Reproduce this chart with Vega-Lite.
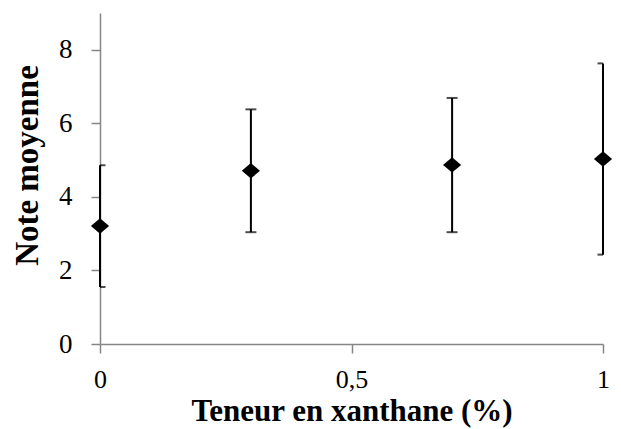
{
  "$schema": "https://vega.github.io/schema/vega-lite/v6.json",
  "width": 503,
  "height": 331,
  "autosize": {"type": "none"},
  "padding": {"left": 100, "top": 13, "right": 18, "bottom": 85},
  "background": "white",
  "config": {
    "view": {"stroke": null},
    "font": "Liberation Serif"
  },
  "data": {
    "values": [
      {"teneur": 0, "note": 3.21, "lo": 1.55, "hi": 4.86},
      {"teneur": 0.3, "note": 4.71, "lo": 3.04, "hi": 6.38},
      {"teneur": 0.7, "note": 4.87, "lo": 3.04, "hi": 6.69},
      {"teneur": 1, "note": 5.03, "lo": 2.43, "hi": 7.63}
    ]
  },
  "encoding": {
    "x": {
      "field": "teneur",
      "type": "quantitative",
      "scale": {"domain": [0, 1], "nice": false},
      "axis": {
        "title": "Teneur en xanthane (%)",
        "values": [0, 0.5, 1],
        "labelExpr": "replace(format(datum.value, '.1~f'), '.', ',')",
        "grid": false,
        "domainColor": "#868686",
        "tickColor": "#868686",
        "domainWidth": 1.5,
        "tickWidth": 1.5,
        "tickSize": 9,
        "labelFlush": false,
        "labelFont": "Liberation Serif",
        "labelFontSize": 26,
        "labelColor": "black",
        "labelPadding": 13,
        "titleFont": "Liberation Serif",
        "titleFontSize": 31,
        "titleFontWeight": "bold",
        "titleColor": "black",
        "titlePadding": 4
      }
    }
  },
  "layer": [
    {
      "mark": {"type": "rule", "color": "black", "strokeWidth": 2},
      "encoding": {
        "y": {
          "field": "lo",
          "type": "quantitative",
          "scale": {"domain": [0, 9], "nice": false},
          "axis": {
            "title": "Note moyenne",
            "values": [0, 2, 4, 6, 8],
            "grid": false,
            "domainColor": "#868686",
            "tickColor": "#868686",
            "domainWidth": 1.5,
            "tickWidth": 1.5,
            "tickSize": 9,
            "labelFont": "Liberation Serif",
            "labelFontSize": 27,
            "labelColor": "black",
            "labelPadding": 19,
            "titleFont": "Liberation Serif",
            "titleFontSize": 33,
            "titleFontWeight": "bold",
            "titleColor": "black",
            "titlePadding": 14,
            "titleY": 152
          }
        },
        "y2": {"field": "hi"}
      }
    },
    {
      "mark": {"type": "tick", "orient": "horizontal", "color": "black", "size": 11, "thickness": 2, "clip": true},
      "encoding": {"y": {"field": "lo", "type": "quantitative"}}
    },
    {
      "mark": {"type": "tick", "orient": "horizontal", "color": "black", "size": 11, "thickness": 2, "clip": true},
      "encoding": {"y": {"field": "hi", "type": "quantitative"}}
    },
    {
      "mark": {"type": "point", "shape": "M-1,0L0,-0.85L1,0L0,0.85Z", "filled": true, "color": "black", "opacity": 1, "size": 330},
      "encoding": {"y": {"field": "note", "type": "quantitative"}}
    }
  ]
}
